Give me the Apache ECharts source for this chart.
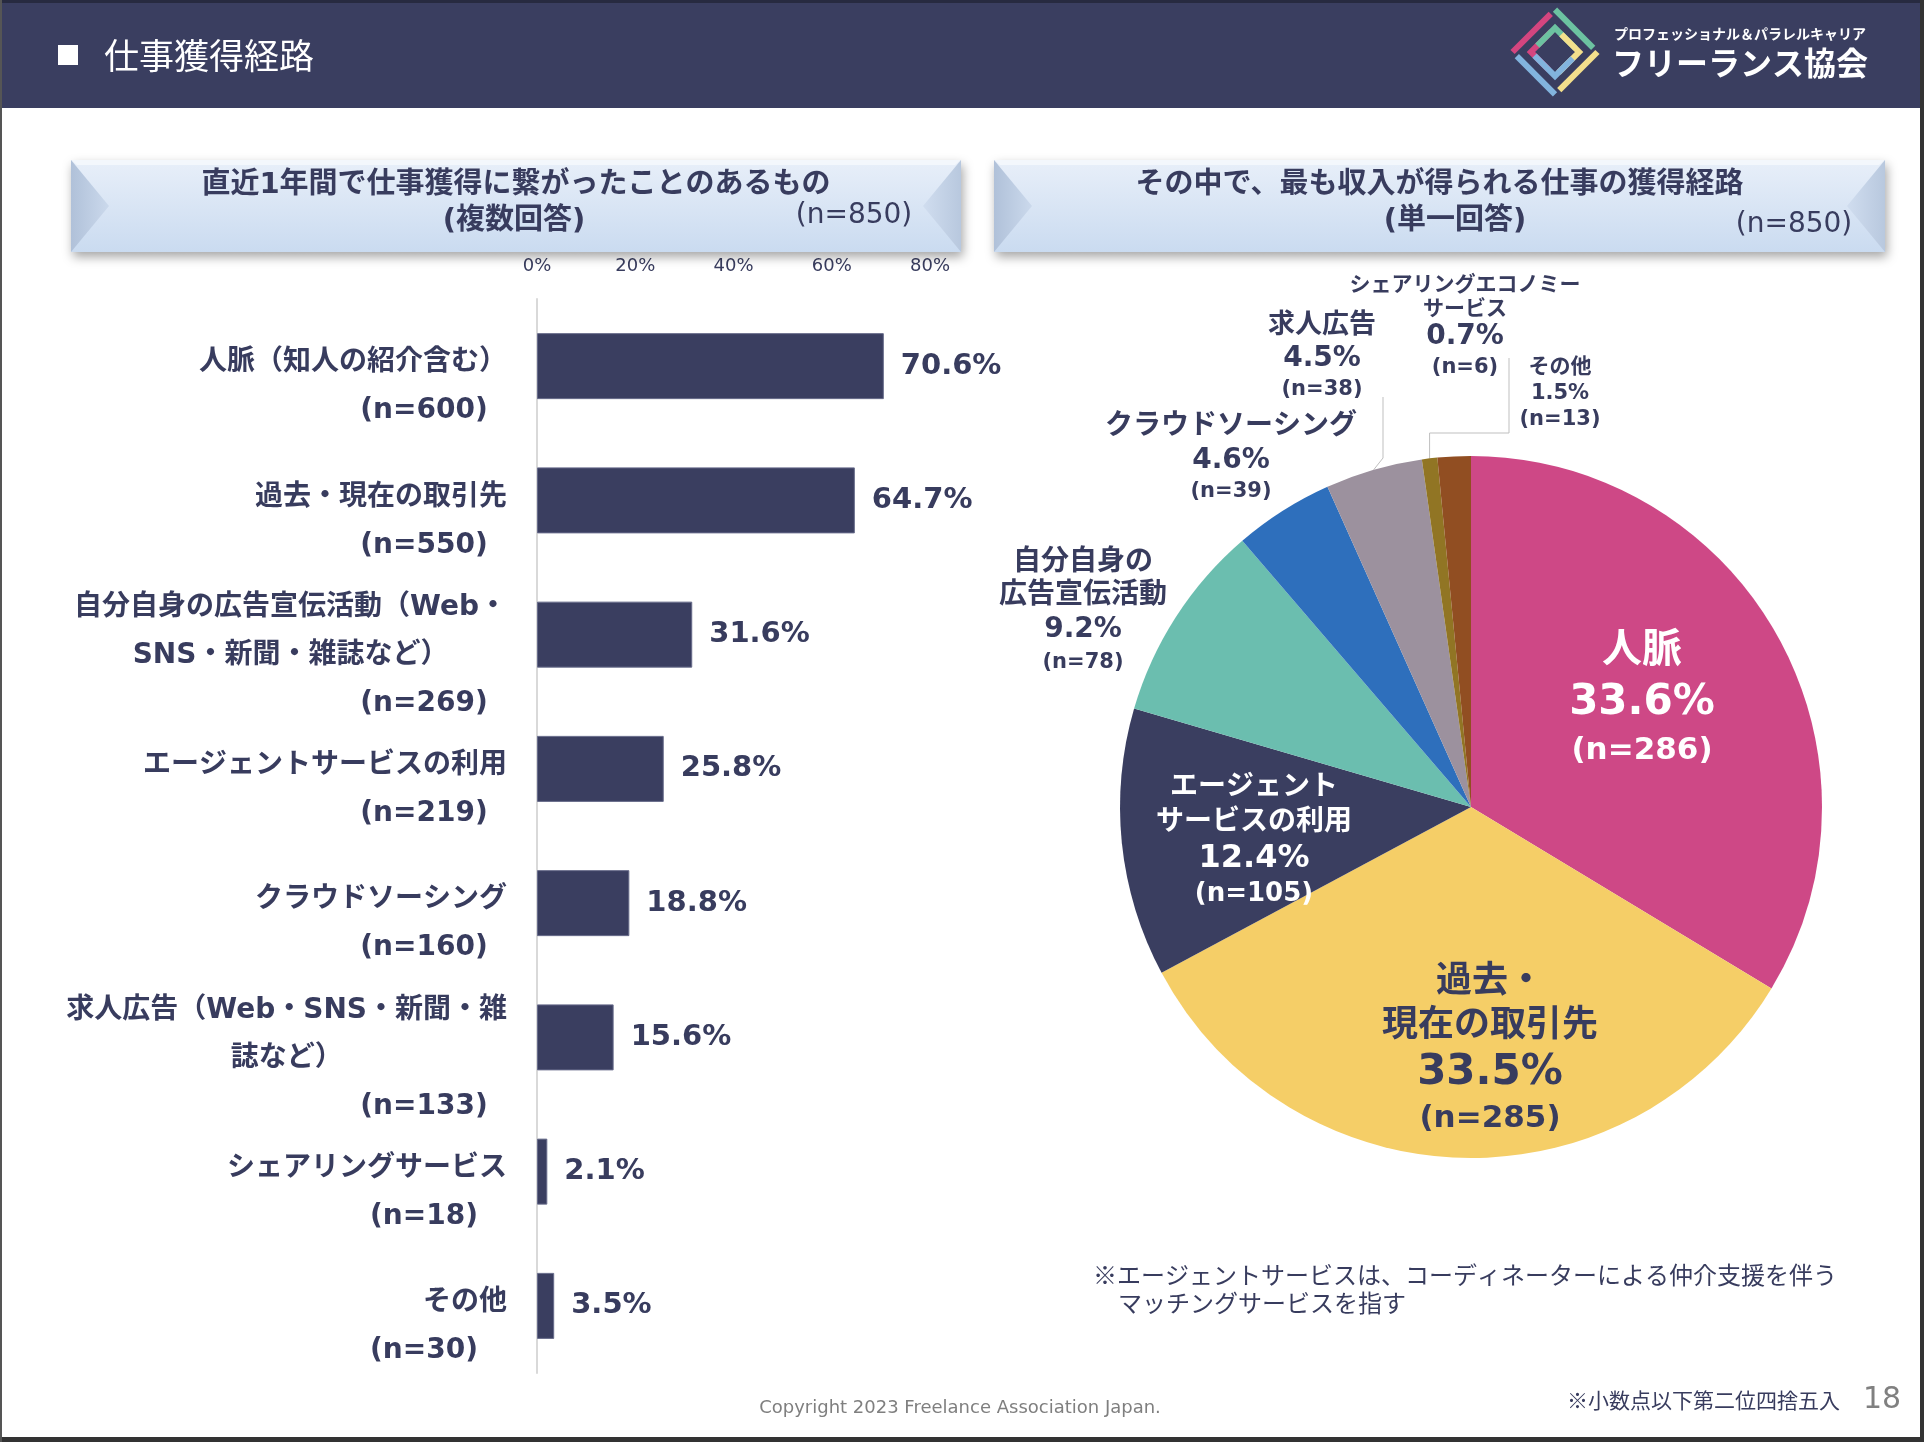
<!DOCTYPE html>
<html>
<head>
<meta charset="utf-8">
<script src="https://cdn.jsdelivr.net/npm/echarts@6.0.0/dist/echarts.min.js"></script>
<style>
html,body{margin:0;padding:0;background:#fff;}
#c{width:1924px;height:1442px;}
</style>
</head>
<body>
<div id="c"></div>
<script>
// ---------- DATA ----------
const barCategories = [
  '人脈（知人の紹介含む）',
  '過去・現在の取引先',
  '自分自身の広告宣伝活動（Web・\nSNS・新聞・雑誌など）',
  'エージェントサービスの利用',
  'クラウドソーシング',
  '求人広告（Web・SNS・新聞・雑\n誌など）',
  'シェアリングサービス',
  'その他'
];
const barN = [600, 550, 269, 219, 160, 133, 18, 30];
const barValues = [70.6, 64.7, 31.6, 25.8, 18.8, 15.6, 2.1, 3.5];
const xTicks = [0, 20, 40, 60, 80];

const pieNames = [
  '人脈',
  '過去・\n現在の取引先',
  'エージェント\nサービスの利用',
  '自分自身の\n広告宣伝活動',
  'クラウドソーシング',
  '求人広告',
  'シェアリングエコノミー\nサービス',
  'その他'
];
const pieN = [286, 285, 105, 78, 39, 38, 6, 13];
const piePct = [33.6, 33.5, 12.4, 9.2, 4.6, 4.5, 0.7, 1.5];

// ---------- STYLE ----------
const NAVY = '#383c5e';
const FF = '"DejaVu Sans", "Noto Sans CJK JP", sans-serif';
const FJ = '"Noto Sans CJK JP", sans-serif';
const pieColors = ['#ce4886', '#f5ce67', '#3a3e60', '#6bbeaf', '#2e6fbc', '#9c919e', '#917524', '#914e22'];
const pieLabelStyle = [
  {pos: 'inside',  color: '#fff', s: [40, 42, 31], lh: [52, 50, 46]},
  {pos: 'inside',  color: NAVY,   s: [36, 42, 31], lh: [44, 48, 44]},
  {pos: 'inside',  color: '#fff', s: [28, 32, 26], lh: [35, 37, 35]},
  {pos: 'outside', color: NAVY,   s: [28, 28, 21], lh: [33, 35, 30]},
  {pos: 'outside', color: NAVY,   s: [28, 28, 21], lh: [34, 34, 28]},
  {pos: 'outside', color: NAVY,   s: [27, 28, 21], lh: [33, 33, 30]},
  {pos: 'outside', color: NAVY,   s: [21, 28, 21], lh: [24, 31, 30]},
  {pos: 'outside', color: NAVY,   s: [21, 21, 21], lh: [26, 26, 26]}
];
const pieLabelXY = [[1642, 700], [1490, 1051], [1254, 841], [1083, 612], [1231, 458], [1322, 357], [1465, 328], [1560, 394]];

// measure (n=...) widths to centre them under the label
const CAT_FS = 28;
const mctx = document.createElement('canvas').getContext('2d');
mctx.font = 'bold ' + CAT_FS + 'px ' + FF;
const barRich = {
  a: {fontSize: CAT_FS, fontWeight: 'bold', color: NAVY, fontFamily: FF, lineHeight: 48, align: 'right'},
  w: {fontSize: CAT_FS, fontWeight: 'bold', color: NAVY, fontFamily: FF, lineHeight: 48, align: 'center'}
};
barN.forEach((n, i) => {
  const w = mctx.measureText('(n=' + n + ')').width;
  barRich['n' + i] = {fontSize: CAT_FS, fontWeight: 'bold', color: NAVY, fontFamily: FF, lineHeight: 48, align: 'right',
    padding: [0, Math.max(0, 83 - w / 2), 0, 0]};
});

// ---------- GRAPHICS (decoration) ----------
function subBox(x, y, w, h, title, sub, subX, nX, nY) {
  const els = [];
  els.push({type: 'rect', shape: {x: x, y: y, width: w, height: h},
    style: {fill: {type: 'linear', x: 0, y: 0, x2: 0, y2: 1, colorStops: [{offset: 0, color: '#e8eff9'}, {offset: 1, color: '#cadbf0'}]},
      shadowBlur: 10, shadowOffsetX: 2, shadowOffsetY: 5, shadowColor: 'rgba(0,0,0,0.35)'}, z: 1});
  els.push({type: 'polygon', shape: {points: [[x, y], [x + w, y], [x + w - 6, y + 5], [x + 6, y + 5]]},
    style: {fill: '#f3f7fc'}, z: 2});
  els.push({type: 'polygon', shape: {points: [[x, y], [x + 38, y + h / 2], [x, y + h]]},
    style: {fill: {type: 'linear', x: 0, y: 0, x2: 1, y2: 0, colorStops: [{offset: 0, color: '#b0c1d9'}, {offset: 1, color: '#cbd9ec'}]}}, z: 2});
  els.push({type: 'polygon', shape: {points: [[x + w, y], [x + w - 38, y + h / 2], [x + w, y + h]]},
    style: {fill: {type: 'linear', x: 1, y: 0, x2: 0, y2: 0, colorStops: [{offset: 0, color: '#b8c8de'}, {offset: 1, color: '#d0ddef'}]}}, z: 2});
  els.push({type: 'text', x: x + w / 2, y: 185, z: 3,
    style: {text: title, fill: NAVY, font: 'bold 29px ' + FF, textAlign: 'center', textVerticalAlign: 'middle', align: 'center', verticalAlign: 'middle'}});
  els.push({type: 'text', x: subX, y: 221, z: 3,
    style: {text: sub, fill: NAVY, font: 'bold 29px ' + FF, textAlign: 'center', textVerticalAlign: 'middle', align: 'center', verticalAlign: 'middle'}});
  els.push({type: 'text', x: nX, y: nY, z: 3,
    style: {text: '(n=850)', fill: NAVY, font: 'normal 28px ' + FF, textAlign: 'center', textVerticalAlign: 'middle', align: 'center', verticalAlign: 'middle'}});
  return els;
}

// logo pinwheel
const LX = 1555, LY = 52;
function toScreen(pts) { return pts.map(p => [LX + (p[0] - p[1]) * 0.7071, LY + (p[0] + p[1]) * 0.7071]); }
function rot(pts, k) { let r = pts; for (let j = 0; j < k; j++) r = r.map(p => [-p[1], p[0]]); return r; }
const logoColors = ['#d4457f', '#6cc2a1', '#f3df8c', '#82b4de'];
const logoOuter = [[-30, 30], [-30, -24]];
const logoInner = [[-17, -12], [-17, 17], [8, 17]];
const logoEls = [];
logoColors.forEach((c, k) => {
  logoEls.push({type: 'polyline', shape: {points: toScreen(rot(logoOuter, k))}, style: {stroke: c, lineWidth: 6, fill: null}, z: 5});
  logoEls.push({type: 'polyline', shape: {points: toScreen(rot(logoInner, k))}, style: {stroke: c, lineWidth: 6, fill: null}, z: 5});
});

const graphics = [
  {type: 'rect', shape: {x: 0, y: 0, width: 1924, height: 108}, style: {fill: '#3a3e60'}, z: 0},
  {type: 'rect', shape: {x: 0, y: 0, width: 1924, height: 3}, style: {fill: '#272a40'}, z: 0},
  {type: 'rect', shape: {x: 58, y: 45, width: 20, height: 20}, style: {fill: '#ffffff'}, z: 5},
  {type: 'text', x: 104, y: 56, z: 5, style: {text: '仕事獲得経路', fill: '#fff', font: 'normal 35px ' + FJ, textVerticalAlign: 'middle', verticalAlign: 'middle'}},
  {type: 'text', x: 1614, y: 34, z: 5, style: {text: 'プロフェッショナル＆パラレルキャリア', fill: '#fff', font: 'bold 14px ' + FJ, textVerticalAlign: 'middle', verticalAlign: 'middle'}},
  {type: 'text', x: 1612, y: 63, z: 5, style: {text: 'フリーランス協会', fill: '#fff', font: 'bold 32px ' + FJ, textVerticalAlign: 'middle', verticalAlign: 'middle'}},
  ...logoEls,
  ...subBox(71, 160, 890, 92, '直近1年間で仕事獲得に繋がったことのあるもの', '(複数回答)', 514, 854, 216),
  ...subBox(994, 160, 891, 92, 'その中で、最も収入が得られる仕事の獲得経路', '(単一回答)', 1455, 1794, 225),
  {type: 'text', x: 1093, y: 1275, z: 5, style: {text: '※エージェントサービスは、コーディネーターによる仲介支援を伴う', fill: NAVY, font: 'normal 24px ' + FJ, textVerticalAlign: 'middle', verticalAlign: 'middle'}},
  {type: 'text', x: 1118, y: 1303, z: 5, style: {text: 'マッチングサービスを指す', fill: NAVY, font: 'normal 24px ' + FJ, textVerticalAlign: 'middle', verticalAlign: 'middle'}},
  {type: 'text', x: 1567, y: 1400, z: 5, style: {text: '※小数点以下第二位四捨五入', fill: NAVY, font: 'normal 21px ' + FJ, textVerticalAlign: 'middle', verticalAlign: 'middle'}},
  {type: 'text', x: 1882, y: 1400, z: 5, style: {text: '18', fill: '#808080', font: 'normal 30px ' + FF, textAlign: 'center', align: 'center', textVerticalAlign: 'middle', verticalAlign: 'middle'}},
  {type: 'text', x: 960, y: 1408, z: 5, style: {text: 'Copyright 2023 Freelance Association Japan.', fill: '#7f7f7f', font: 'normal 18px ' + FF, textAlign: 'center', align: 'center', textVerticalAlign: 'middle', verticalAlign: 'middle'}},
  {type: 'rect', shape: {x: 0, y: 1437, width: 1924, height: 5}, style: {fill: '#333333'}, z: 6},
  {type: 'rect', shape: {x: 1920, y: 0, width: 4, height: 1442}, style: {fill: '#333333'}, z: 6},
  {type: 'rect', shape: {x: 0, y: 0, width: 2, height: 1442}, style: {fill: '#555555'}, z: 6}
];

// ---------- CHART ----------
const chart = echarts.init(document.getElementById('c'), null, {renderer: 'canvas', width: 1924, height: 1442});

const option = {
  backgroundColor: '#ffffff',
  animation: false,
  graphic: {elements: graphics},
  grid: {left: 537, top: 299, width: 393, height: 1074, containLabel: false},
  xAxis: {
    type: 'value', position: 'top',
    min: xTicks[0], max: xTicks[xTicks.length - 1], interval: xTicks[1] - xTicks[0],
    axisLabel: {formatter: '{value}%', fontSize: 18, color: NAVY, fontFamily: FF, margin: 24},
    splitLine: {show: false}, axisLine: {show: false}, axisTick: {show: false}
  },
  yAxis: {
    type: 'category', inverse: true, data: barCategories,
    axisLine: {show: true, lineStyle: {color: '#d9d9d9', width: 2}},
    axisTick: {show: false},
    axisLabel: {
      interval: 0, margin: 30, padding: [42, 0, 0, 0],
      formatter: function (value, index) {
        const lines = value.split('\n');
        const out = ['{a|' + lines[0] + '}'];
        for (let k = 1; k < lines.length; k++) out.push('{w|' + lines[k] + '}');
        out.push('{n' + index + '|(n=' + barN[index] + ')}');
        return out.join('\n');
      },
      rich: barRich
    }
  },
  series: [
    {
      type: 'bar',
      data: barValues,
      barWidth: 66,
      itemStyle: {color: '#3a3e60', borderColor: '#676b8a', borderWidth: 1},
      label: {
        show: true, position: 'right', distance: 17,
        formatter: p => p.value.toFixed(1) + '%',
        fontSize: 29, fontWeight: 'bold', color: NAVY, fontFamily: FF
      },
      emphasis: {disabled: true}
    },
    {
      type: 'pie',
      center: [1471, 807],
      radius: 351,
      startAngle: 90,
      clockwise: true,
      avoidLabelOverlap: false,
      emphasis: {disabled: true},
      itemStyle: {borderWidth: 0},
      data: pieNames.map((name, i) => {
        const st = pieLabelStyle[i];
        return {
          name: name,
          value: pieN[i],
          itemStyle: {color: pieColors[i]},
          label: {
            show: true,
            position: st.pos,
            formatter: function (p) {
              const j = p.dataIndex;
              const nm = pieNames[j].split('\n').map(s => '{nm|' + s + '}').join('\n');
              return nm + '\n{pc|' + piePct[j].toFixed(1) + '%}\n{nn|(n=' + pieN[j] + ')}';
            },
            rich: {
              nm: {fontSize: st.s[0], fontWeight: 'bold', color: st.color, fontFamily: FF, lineHeight: st.lh[0]},
              pc: {fontSize: st.s[1], fontWeight: 'bold', color: st.color, fontFamily: FF, lineHeight: st.lh[1]},
              nn: {fontSize: st.s[2], fontWeight: 'bold', color: st.color, fontFamily: FF, lineHeight: st.lh[2]}
            }
          },
          labelLine: {show: i === 5 || i === 6, length: 10, length2: 10, lineStyle: {color: '#bfbfbf', width: 1}}
        };
      }),
      labelLayout: function (params) {
        const i = params.dataIndex;
        const xy = pieLabelXY[i];
        const out = {x: xy[0], y: xy[1], align: 'center', verticalAlign: 'middle'};
        const pts = params.labelLinePoints;
        if (pts && pts[0]) {
          const p0 = pts[0];
          if (i === 5) out.labelLinePoints = [[p0[0], p0[1]], [1383, 458], [1383, 397]];
          if (i === 6) out.labelLinePoints = [[p0[0], p0[1]], [p0[0], 433], [1509, 433], [1509, 358]];
        }
        return out;
      }
    }
  ]
};
chart.setOption(option);
</script>
</body>
</html>
